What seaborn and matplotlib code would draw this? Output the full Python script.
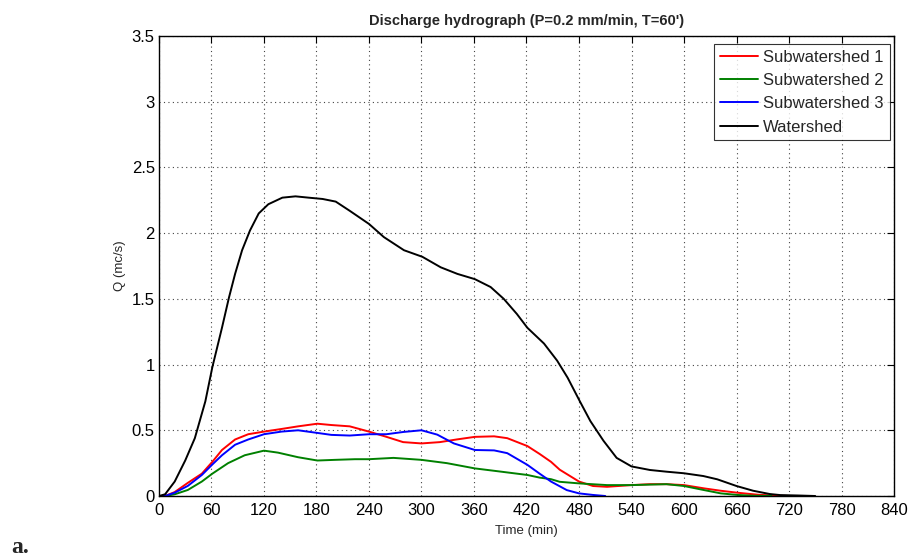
import numpy as np
import pandas as pd
import matplotlib
matplotlib.use("Agg")
import matplotlib.pyplot as plt
import seaborn as sns

# ---- data ----
series_names = ["Subwatershed 1", "Subwatershed 2", "Subwatershed 3", "Watershed"]

t_ws = [0, 7, 18, 30, 41, 53, 61, 72, 80, 87, 95, 104, 114, 125, 141, 156, 171, 187, 202, 218,
        240, 257, 280, 301, 322, 341, 361, 379, 394, 409, 421, 440, 455, 467, 481, 493, 508, 523,
        540, 561, 580, 600, 622, 638, 660, 679, 698, 710, 730, 750]
q_ws = [0, 0.013, 0.11, 0.27, 0.44, 0.72, 0.98, 1.28, 1.51, 1.69, 1.87, 2.02, 2.15, 2.22, 2.27,
        2.28, 2.27, 2.26, 2.24, 2.17, 2.07, 1.97, 1.87, 1.82, 1.74, 1.69, 1.65, 1.59, 1.50, 1.385,
        1.28, 1.16, 1.03, 0.90, 0.72, 0.57, 0.42, 0.29, 0.225, 0.198, 0.185, 0.173, 0.152, 0.127,
        0.076, 0.04, 0.015, 0.007, 0.004, 0.0]

t_s1 = [0, 7, 18, 33, 49, 61, 72, 87, 102, 120, 140, 159, 181, 197, 218, 240, 260, 279, 300, 321,
        340, 361, 383, 398, 421, 435, 448, 458, 480, 496, 512, 540, 561, 580, 600, 623, 642, 661,
        684, 703, 720]
q_s1 = [0, 0.0, 0.03, 0.10, 0.17, 0.26, 0.35, 0.43, 0.47, 0.49, 0.51, 0.53, 0.55, 0.54, 0.53, 0.49,
        0.45, 0.41, 0.40, 0.41, 0.43, 0.45, 0.454, 0.44, 0.38, 0.32, 0.26, 0.20, 0.11, 0.076, 0.07,
        0.083, 0.09, 0.09, 0.083, 0.058, 0.04, 0.025, 0.01, 0.003, 0.0]

t_s2 = [0, 7, 18, 33, 49, 61, 79, 98, 120, 136, 159, 181, 201, 224, 240, 268, 300, 329, 361, 390,
        421, 435, 448, 458, 480, 512, 540, 580, 600, 623, 642, 661, 680, 700]
q_s2 = [0, 0, 0.013, 0.046, 0.11, 0.17, 0.25, 0.31, 0.345, 0.33, 0.295, 0.27, 0.275, 0.28, 0.28,
        0.29, 0.275, 0.25, 0.21, 0.186, 0.16, 0.14, 0.128, 0.108, 0.096, 0.083, 0.083, 0.09, 0.076,
        0.045, 0.02, 0.008, 0.002, 0.0]

t_s3 = [0, 7, 18, 33, 49, 61, 72, 87, 102, 120, 140, 159, 181, 197, 218, 240, 260, 279, 300, 318,
        337, 361, 383, 398, 421, 435, 448, 466, 480, 496, 510]
q_s3 = [0, 0.0, 0.025, 0.077, 0.16, 0.24, 0.31, 0.39, 0.43, 0.47, 0.49, 0.50, 0.48, 0.465, 0.46,
        0.47, 0.47, 0.487, 0.50, 0.467, 0.40, 0.35, 0.347, 0.326, 0.237, 0.17, 0.11, 0.045, 0.02,
        0.008, 0.0]

x_ticks = list(range(0, 841, 60))
y_ticks = [0, 0.5, 1, 1.5, 2, 2.5, 3, 3.5]
y_tick_labels = ["0", "0.5", "1", "1.5", "2", "2.5", "3", "3.5"]

title = "Discharge hydrograph (P=0.2 mm/min, T=60')"
xlabel = "Time (min)"
ylabel = "Q (mc/s)"

# ---- build long-form table ----
frames = []
for name, t, q in zip(series_names, [t_s1, t_s2, t_s3, t_ws], [q_s1, q_s2, q_s3, q_ws]):
    frames.append(pd.DataFrame({"t": t, "q": q, "series": name}))
df = pd.concat(frames, ignore_index=True)

sns.set_theme(style="white")
plt.rcParams["font.family"] = ["Liberation Sans", "DejaVu Sans"]

fig = plt.figure(figsize=(9.12, 5.59), dpi=100)
ax = fig.add_axes([0.1743, 0.1127, 0.806, 0.8229])

palette = {"Subwatershed 1": "#ff0000", "Subwatershed 2": "#008000",
           "Subwatershed 3": "#0000ff", "Watershed": "#000000"}
sns.lineplot(data=df, x="t", y="q", hue="series", hue_order=series_names, palette=palette,
             estimator=None, sort=True, linewidth=1.4, ax=ax)

ax.set_xlim(0, 840)
ax.set_ylim(0, 3.5)
ax.set_xticks(x_ticks)
ax.set_xticklabels([str(v) for v in x_ticks])
ax.set_yticks(y_ticks)
ax.set_yticklabels(y_tick_labels)
ax.tick_params(direction="in", length=5, width=0.8, colors="black", labelsize=12,
               top=True, right=True, pad=3)
ax.tick_params(axis="x", pad=5)
for s in ax.spines.values():
    s.set_color("black")
    s.set_linewidth(1.0)
ax.grid(True, color="#444444", linestyle=(0, (1, 3)), linewidth=0.8)

ax.set_title(title, fontsize=10.5, fontweight="bold", pad=8)
ax.set_xlabel(xlabel, fontsize=9.5, labelpad=5)
ax.set_ylabel(ylabel, fontsize=9.5, labelpad=4)

leg = ax.legend(loc="upper right", bbox_to_anchor=(0.994, 0.983), fontsize=12, frameon=True,
                fancybox=False, edgecolor="black", handlelength=2.3, handletextpad=0.3,
                borderpad=0.35, labelspacing=0.5, borderaxespad=0.0)
leg.get_frame().set_linewidth(0.8)
leg.set_title(None)

fig.text(0.012, 0.01, "a.", fontsize=17, fontweight="bold",
         family=["Liberation Serif", "DejaVu Serif"], va="baseline", ha="left")

fig.savefig("out.png", dpi=100, facecolor="white")
